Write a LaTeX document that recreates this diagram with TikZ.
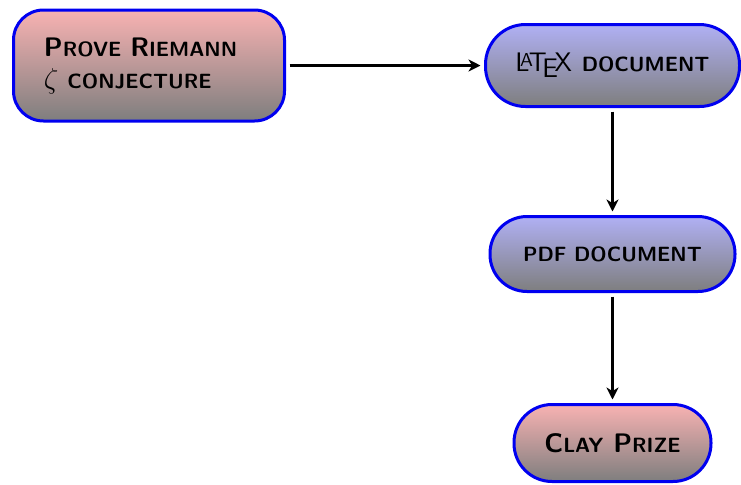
\documentclass[tikz,border=0pt]{standalone}
\usetikzlibrary{arrows.meta}
\definecolor{redtop}{HTML}{F8B2B2}
\definecolor{bluetop}{HTML}{B0B0F4}
\definecolor{shadebot}{HTML}{7E7E7E}
\definecolor{stepedge}{HTML}{0000F0}
\newcommand{\capl}[1]{{\fontsize{13.4}{16}\selectfont #1}}
\newcommand{\scl}[1]{{\fontsize{10.3}{16}\selectfont\MakeUppercase{#1}}}

\begin{document}
\begin{tikzpicture}[x=0.5pt, y=-0.5pt,
  stepbox/.style={rectangle, draw=stepedge, line width=1.5pt, outer sep=2.5pt,
                  align=left, font=\fontsize{13.4}{16}\selectfont\sffamily\bfseries},
  redbox/.style={stepbox, top color=redtop, bottom color=shadebot},
  bluebox/.style={stepbox, top color=bluetop, bottom color=shadebot},
  flow/.style={draw, line width=1.4pt, -{Stealth[length=6pt, width=6pt, inset=1.8pt]}},
]
\useasboundingbox (0,0) rectangle (741,484);
\node[redbox, rounded corners=15pt, text width=105pt, inner xsep=15.25pt, minimum height=55.5pt]
  (riemann) at (149,65.5) {\capl{P}\scl{rove} \capl{R}\scl{iemann}\\$\zeta$ \scl{conjecture}};
\node[bluebox, rounded corners=20pt, minimum width=127pt, minimum height=41pt]
  (latexdoc) at (612.5,65.5) {{\mdseries\LaTeX} \scl{document}};
\node[bluebox, rounded corners=18.5pt, minimum width=122.5pt, minimum height=37.5pt]
  (pdfdoc) at (612.5,254) {\scl{pdf document}};
\node[redbox, rounded corners=19pt, minimum width=98.5pt, minimum height=38.5pt]
  (prize) at (612.5,443) {\capl{C}\scl{lay} \capl{P}\scl{rize}};
% riemann -> latex -> pdf -> prize
\draw[flow] (riemann) -- (latexdoc);
\draw[flow] (latexdoc) -- (pdfdoc);
\draw[flow] (pdfdoc) -- (prize);
\end{tikzpicture}
\end{document}
